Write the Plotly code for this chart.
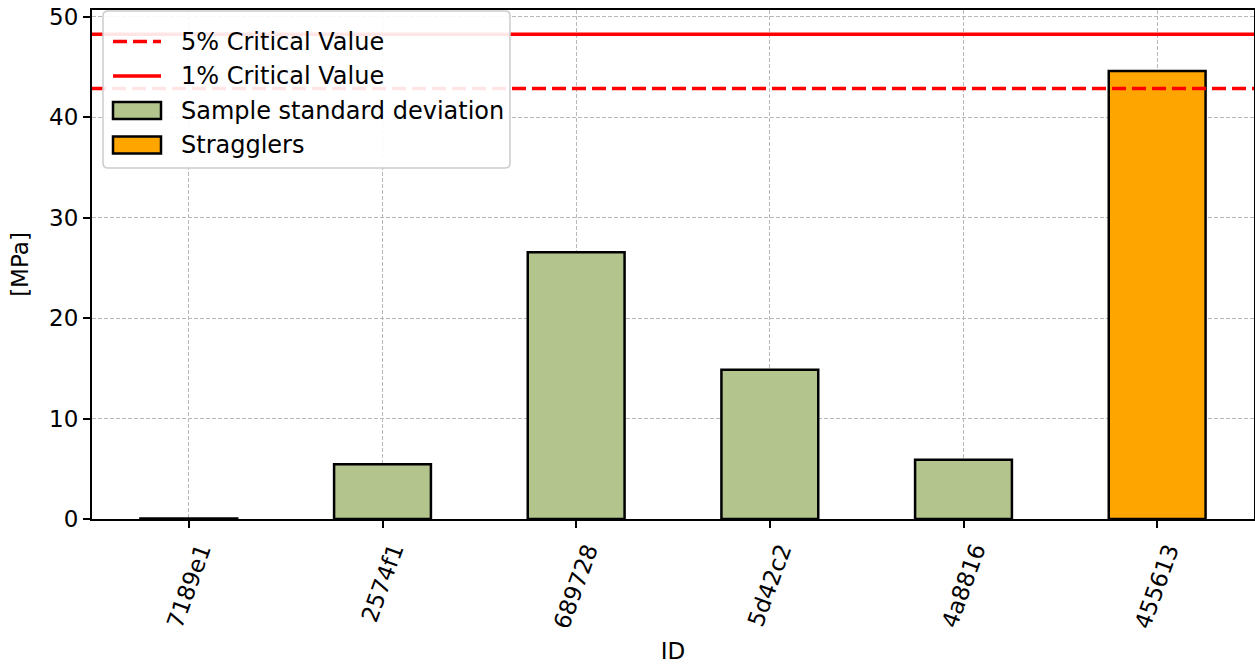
import plotly.graph_objects as go

categories = ["7189e1", "2574f1", "689728", "5d42c2", "4a8816", "455613"]
std_values = [0.05, 5.45, 26.55, 14.85, 5.9, 44.6]
is_straggler = [False, False, False, False, False, True]
crit_5 = 42.86
crit_1 = 48.26
legend_labels = ["5% Critical Value", "1% Critical Value", "Sample standard deviation", "Stragglers"]

GREEN = "#b3c48c"
ORANGE = "#ffa500"
FONT = "DejaVu Sans"
FS = 23
FS_LEG = 24

W, H = 1255, 666
ML, MR, MT, MB = 92, 1, 10, 147
PW = W - ML - MR
PH = H - MT - MB


def px_x(p):
    return (p - ML) / PW


def px_y(p):
    return (H - MB - p) / PH


idx = list(range(len(categories)))
gx = [i for i in idx if not is_straggler[i]]
gy = [std_values[i] for i in gx]
sx = [i for i in idx if is_straggler[i]]
sy = [std_values[i] for i in sx]

fig = go.Figure()
fig.add_trace(go.Bar(x=gx, y=gy, width=0.5, name=legend_labels[2], showlegend=False,
                     marker=dict(color=GREEN, line=dict(color="black", width=2.5))))
fig.add_trace(go.Bar(x=sx, y=sy, width=0.5, name=legend_labels[3], showlegend=False,
                     marker=dict(color=ORANGE, line=dict(color="black", width=2.5))))

fig.add_shape(type="line", xref="x domain", yref="y", x0=0, x1=1, y0=crit_5, y1=crit_5,
              line=dict(color="red", width=3.5, dash="14px,6px"), layer="above")
fig.add_shape(type="line", xref="x domain", yref="y", x0=0, x1=1, y0=crit_1, y1=crit_1,
              line=dict(color="red", width=3.5), layer="above")

# manual legend (matplotlib-style)
bx0, bx1, by0, by1, r = 103, 510, 11, 168, 5
path = (f"M {px_x(bx0 + r)},{px_y(by0)} L {px_x(bx1 - r)},{px_y(by0)} "
        f"Q {px_x(bx1)},{px_y(by0)} {px_x(bx1)},{px_y(by0 + r)} "
        f"L {px_x(bx1)},{px_y(by1 - r)} Q {px_x(bx1)},{px_y(by1)} {px_x(bx1 - r)},{px_y(by1)} "
        f"L {px_x(bx0 + r)},{px_y(by1)} Q {px_x(bx0)},{px_y(by1)} {px_x(bx0)},{px_y(by1 - r)} "
        f"L {px_x(bx0)},{px_y(by0 + r)} Q {px_x(bx0)},{px_y(by0)} {px_x(bx0 + r)},{px_y(by0)} Z")
fig.add_shape(type="path", xref="paper", yref="paper", path=path,
              fillcolor="rgba(255,255,255,0.9)", line=dict(color="#cccccc", width=1.5),
              layer="above")
rows = [41.5, 76, 110.5, 145]
sym_x0, sym_x1 = 113, 161
fig.add_shape(type="line", xref="paper", yref="paper", x0=px_x(sym_x0), x1=px_x(sym_x1),
              y0=px_y(rows[0]), y1=px_y(rows[0]),
              line=dict(color="red", width=3.5, dash="14px,6px"), layer="above")
fig.add_shape(type="line", xref="paper", yref="paper", x0=px_x(sym_x0), x1=px_x(sym_x1),
              y0=px_y(rows[1]), y1=px_y(rows[1]),
              line=dict(color="red", width=3.5), layer="above")
for ry, col in [(rows[2], GREEN), (rows[3], ORANGE)]:
    fig.add_shape(type="rect", xref="paper", yref="paper", x0=px_x(sym_x0), x1=px_x(sym_x1),
                  y0=px_y(ry - 8.5), y1=px_y(ry + 8.5), fillcolor=col,
                  line=dict(color="black", width=2.5), layer="above")
for ry, lab in zip(rows, legend_labels):
    fig.add_annotation(xref="paper", yref="paper", x=px_x(179), y=px_y(ry), text=lab,
                       showarrow=False, xanchor="left", yanchor="middle",
                       font=dict(family=FONT, size=FS_LEG, color="black"))

# rotated category labels, centred under each tick (matplotlib style)
for i, lab in zip(idx, categories):
    fig.add_annotation(xref="x", yref="paper", x=i, y=px_y(538), text=lab,
                       textangle=-70, showarrow=False, xanchor="center", yanchor="top",
                       font=dict(family=FONT, size=FS, color="black"))

ymax = max(max(std_values), crit_1) * 1.05

fig.update_layout(
    width=W, height=H,
    margin=dict(l=ML, r=MR, t=MT, b=MB, autoexpand=False),
    plot_bgcolor="white", paper_bgcolor="white",
    font=dict(family=FONT, size=FS, color="black"),
    barmode="overlay",
    showlegend=False,
    xaxis=dict(range=[-0.5, len(categories) - 0.5], tickmode="array", tickvals=idx,
               showticklabels=False, ticks="outside", ticklen=7,
               tickwidth=2, tickcolor="black", showline=True, linecolor="black",
               linewidth=2, mirror=True, showgrid=True, gridcolor="#b8b8b8",
               griddash="4px,2px", gridwidth=1, zeroline=False, automargin=False,
               title=dict(text="ID", font=dict(size=FS), standoff=116)),
    yaxis=dict(range=[0, ymax], tickmode="array", tickvals=[0, 10, 20, 30, 40, 50],
               ticks="outside", ticklen=7, tickwidth=2, tickcolor="black",
               showline=True, linecolor="black", linewidth=2, mirror=True,
               showgrid=True, gridcolor="#b8b8b8", griddash="4px,2px", gridwidth=1,
               zeroline=False, automargin=False,
               title=dict(text="[MPa]", font=dict(size=FS), standoff=14),
               tickfont=dict(size=FS)),
)

fig.write_html("out.html", post_script="document.body.style.margin='0';",
               config={"displayModeBar": False})
